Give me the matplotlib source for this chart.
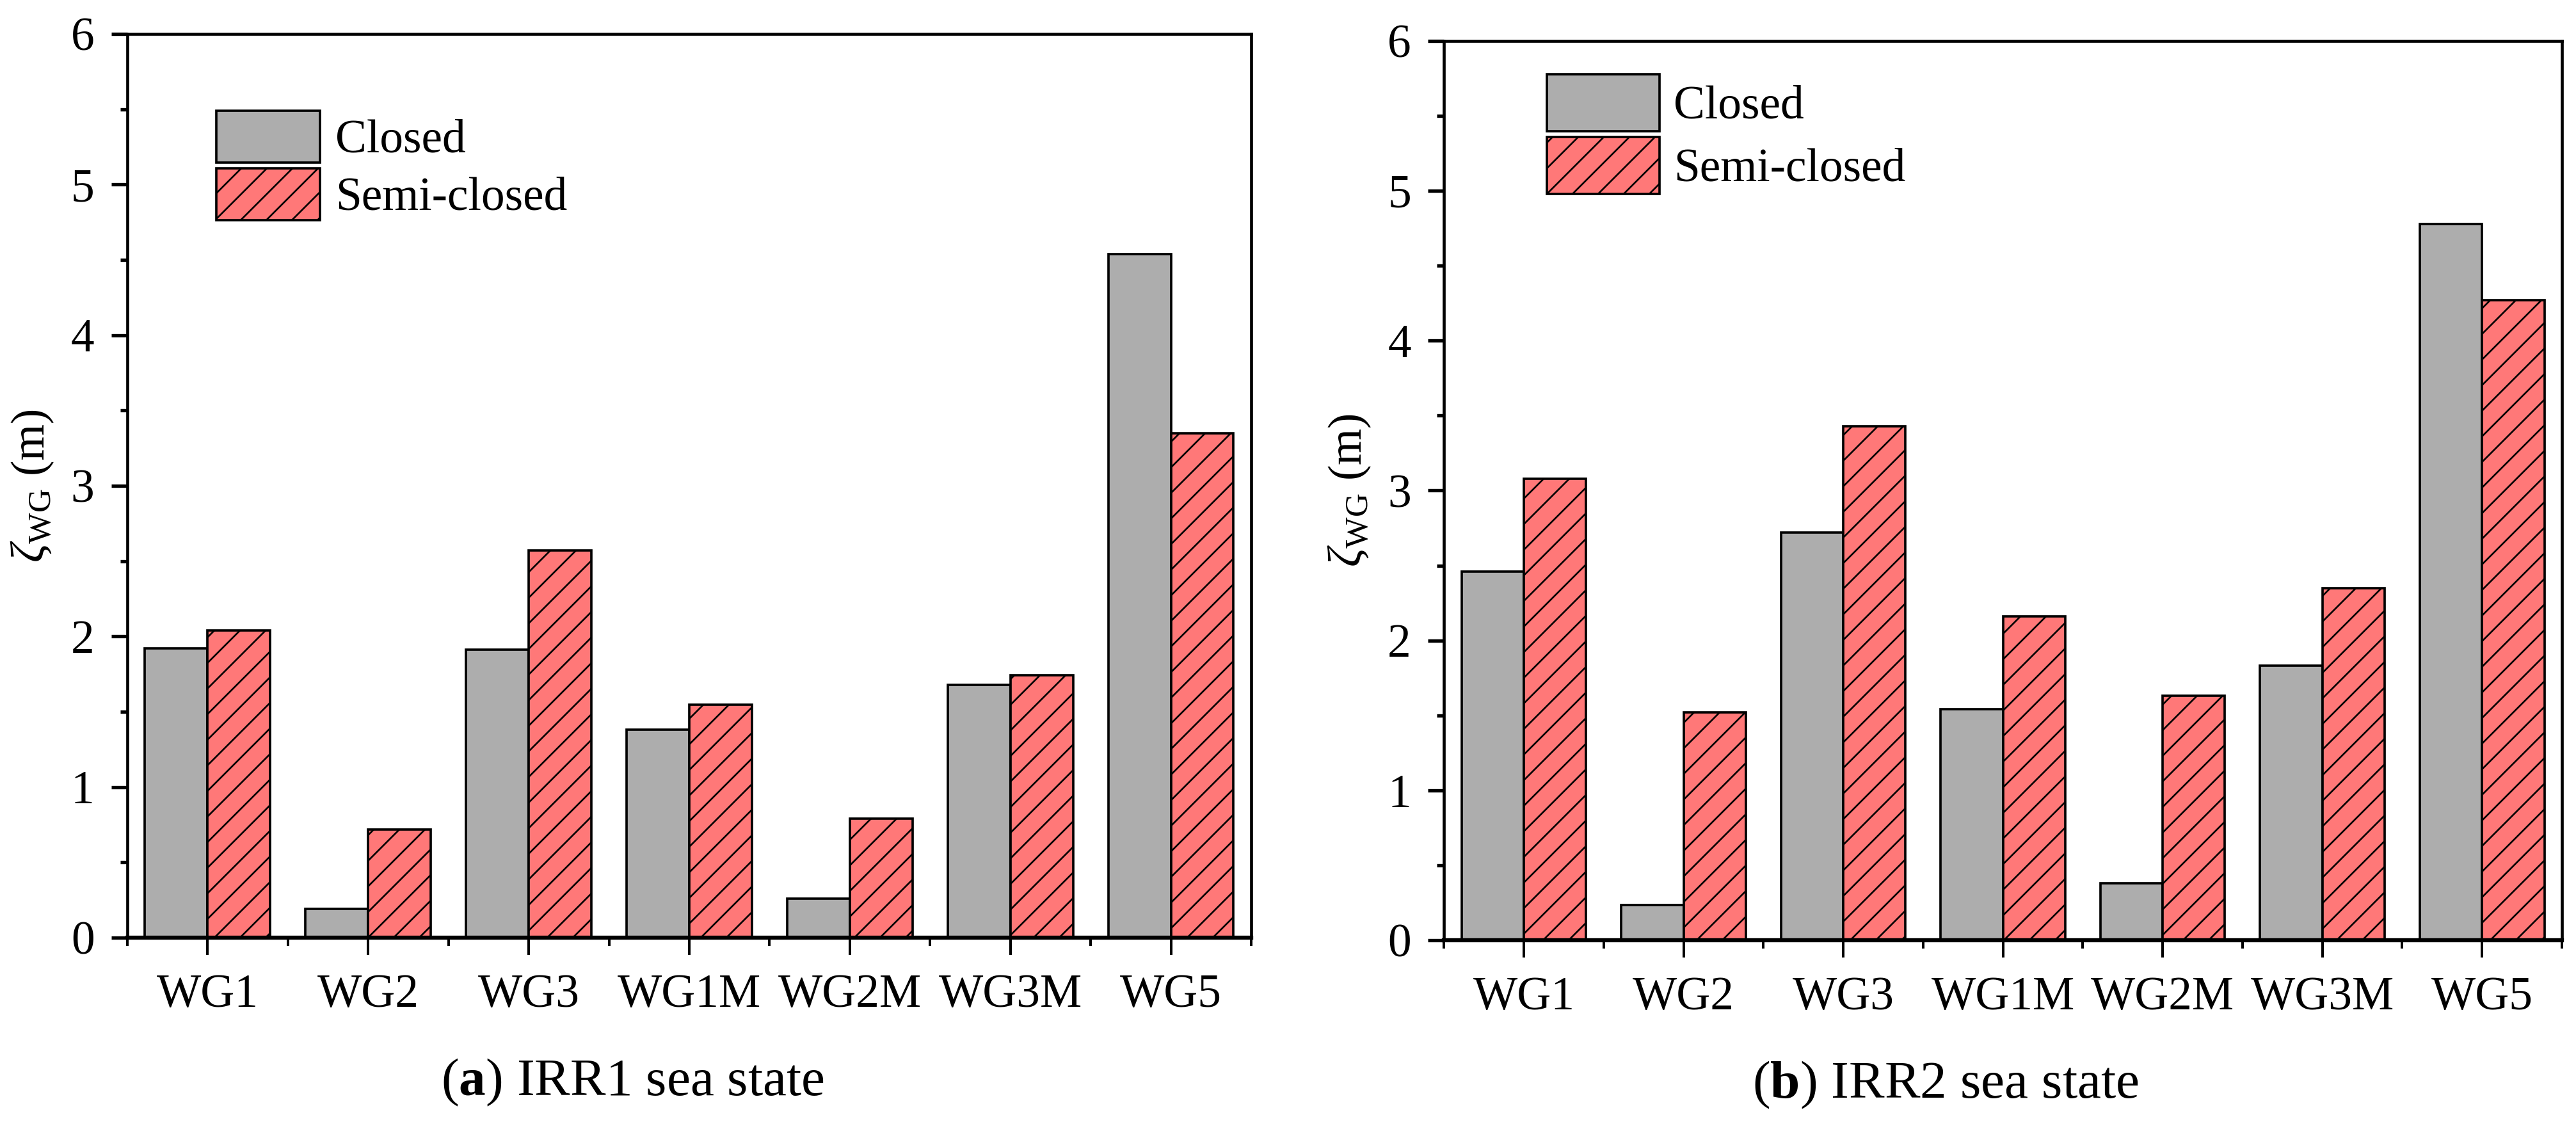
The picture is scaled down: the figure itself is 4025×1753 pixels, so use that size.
import numpy as np
import matplotlib
matplotlib.use("Agg")
import matplotlib.pyplot as plt
from matplotlib.ticker import MultipleLocator, FixedLocator

plt.rcParams['font.family'] = ['Liberation Serif', 'DejaVu Serif']
plt.rcParams['mathtext.fontset'] = 'custom'
plt.rcParams['mathtext.rm'] = 'Liberation Serif'
plt.rcParams['mathtext.it'] = 'Liberation Serif:italic'
plt.rcParams['mathtext.bf'] = 'Liberation Serif:bold'
plt.rcParams['hatch.linewidth'] = 0.8

# data
gauges = ['WG1', 'WG2', 'WG3', 'WG1M', 'WG2M', 'WG3M', 'WG5']
irr1_closed = [1.92, 0.19, 1.91, 1.38, 0.26, 1.68, 4.54]
irr1_semi = [2.04, 0.72, 2.57, 1.545, 0.79, 1.74, 3.35]
irr2_closed = [2.46, 0.235, 2.72, 1.54, 0.38, 1.83, 4.78]
irr2_semi = [3.08, 1.52, 3.43, 2.16, 1.63, 2.35, 4.27]

captions = [r'($\mathbf{a}$) IRR1 sea state', r'($\mathbf{b}$) IRR2 sea state']
series_names = ['Closed', 'Semi-closed']

gray = '#ADADAD'
red = '#FF7878'
fs = 22
w = 0.39

fig = plt.figure(figsize=(4026 / 240, 1753 / 240), dpi=240)
ax1 = fig.add_axes([0.0494, 0.1643, 0.4362, 0.8055])
ax2 = fig.add_axes([0.5604, 0.1620, 0.4339, 0.8015])

panels = [
    (ax1, irr1_closed, irr1_semi, (0.079, 0.915), 2.21, 1.32, 0.33),
    (ax2, irr2_closed, irr2_semi, (0.092, 0.963), 2.4, 1.49, 0.3),
]

x = np.arange(1, len(gauges) + 1)
for ax, closed, semi, anchor, hl, hh, tp in panels:
    ax.bar(x - w / 2, closed, w, color=gray, edgecolor='black', linewidth=1.1,
           label=series_names[0], zorder=2)
    ax.bar(x + w / 2, semi, w, color=red, edgecolor='black', linewidth=1.1,
           hatch='//', label=series_names[1], zorder=2)

    ax.set_xlim(0.5, 7.5)
    ax.set_ylim(0, 6)
    ax.set_xticks(x)
    ax.set_xticklabels(gauges, fontsize=fs)
    ax.xaxis.set_minor_locator(FixedLocator(np.arange(0.5, 8, 1.0)))
    ax.yaxis.set_major_locator(MultipleLocator(1))
    ax.yaxis.set_minor_locator(MultipleLocator(0.5))
    ax.tick_params(axis='y', which='major', direction='out', length=7.4, width=1.6,
                   labelsize=fs, pad=8)
    ax.tick_params(axis='y', which='minor', direction='out', length=3.2, width=1.6)
    ax.tick_params(axis='x', which='major', direction='out', length=8, width=1.2,
                   labelsize=fs, pad=9)
    ax.tick_params(axis='x', which='minor', direction='out', length=4, width=1.2)
    for side in ['left', 'right', 'top']:
        ax.spines[side].set_linewidth(1.4)
    ax.spines['bottom'].set_linewidth(1.9)

    ax.set_ylabel(r'$\zeta_{\mathrm{WG}}$ (m)', fontsize=fs, labelpad=7)

    ax.legend(loc='upper left', bbox_to_anchor=anchor, frameon=False, fontsize=fs,
              borderpad=0, borderaxespad=0, handlelength=hl, handleheight=hh,
              handletextpad=tp, labelspacing=0.12)

fig.text(0.2454, 0.035, captions[0], ha='center', va='center', fontsize=25)
fig.text(0.755, 0.033, captions[1], ha='center', va='center', fontsize=25)

fig.savefig('out.png', dpi=240)
